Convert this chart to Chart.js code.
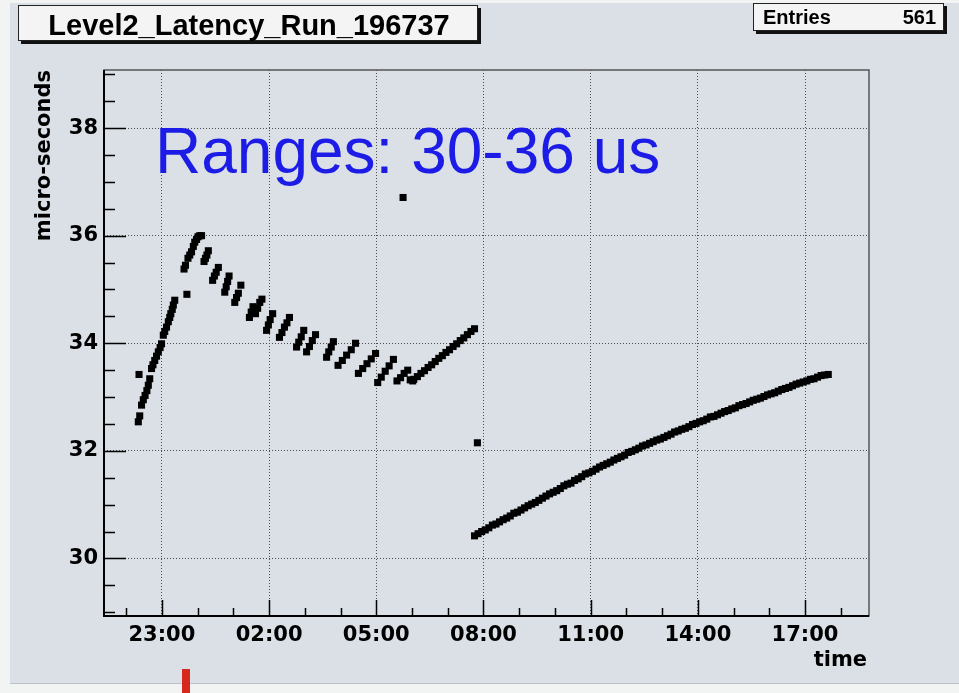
<!DOCTYPE html>
<html>
<head>
<meta charset="utf-8">
<title>Level2_Latency_Run_196737</title>
<script src="https://cdn.jsdelivr.net/npm/chart.js@4.4.1/dist/chart.umd.min.js"></script>
<style>
  html, body { margin: 0; padding: 0; background: #f2f3f3; }
  #wrap { position: relative; width: 959px; height: 693px; }
</style>
</head>
<body>
<div id="wrap"><canvas id="latency"></canvas></div>
<script>
// --- DATA (time in hours of the run: 23 = 23:00, 26 = 02:00 next day) ---
const nightTimes = [
  22.34, 22.36, 22.38, 22.43, 22.48, 22.53, 22.58, 22.62, 22.66, 22.71, 22.75, 22.80, 22.85,
  22.90, 22.95, 22.99, 23.04, 23.08, 23.13, 23.18, 23.22, 23.25, 23.29, 23.32, 23.36,
  23.62, 23.66, 23.70, 23.73, 23.78, 23.83, 23.88, 23.92, 23.97, 24.01, 24.06, 24.11,
  24.18, 24.22, 24.26, 24.30,
  24.42, 24.47, 24.52, 24.58,
  24.76, 24.80, 24.84, 24.88,
  25.04, 25.09, 25.14, 25.21,
  25.45, 25.50, 25.55,
  25.62, 25.68, 25.74, 25.80,
  25.93, 25.98, 26.03, 26.10,
  26.29, 26.36, 26.43, 26.50, 26.57,
  26.77, 26.83, 26.90, 26.97,
  27.05, 27.13, 27.21, 27.30,
  27.61, 27.67, 27.74, 27.80,
  27.93, 28.05, 28.17, 28.30, 28.42,
  28.50, 28.62, 28.74, 28.86, 28.98,
  29.04, 29.14, 29.25, 29.36, 29.48,
  29.58, 29.68, 29.78, 29.88,
  29.95, 30.02,
  30.05, 30.15, 30.25, 30.35, 30.45, 30.55, 30.65, 30.75, 30.85, 30.95,
  31.05, 31.15, 31.25, 31.35, 31.45, 31.55, 31.65, 31.75
];
const nightLatency = [
  32.54, 33.42, 32.65, 32.85, 32.95, 33.03, 33.12, 33.22, 33.34, 33.53, 33.60, 33.68, 33.76,
  33.84, 33.92, 33.99, 34.15, 34.22, 34.30, 34.40, 34.48, 34.55, 34.63, 34.71, 34.80,
  35.38, 35.45, 34.91, 35.58, 35.64, 35.70, 35.80, 35.88, 35.93, 35.98, 36.00, 36.00,
  35.52, 35.58, 35.64, 35.72,
  35.17, 35.25, 35.32, 35.41,
  34.95, 35.05, 35.15, 35.25,
  34.76, 34.85, 34.93, 35.08,
  34.48, 34.58, 34.68,
  34.55, 34.65, 34.76, 34.82,
  34.24, 34.34, 34.44, 34.55,
  34.11, 34.20, 34.30, 34.38, 34.48,
  33.93, 34.02, 34.12, 34.24,
  33.84, 33.94, 34.05, 34.16,
  33.74, 33.84, 33.93, 34.03,
  33.59, 33.68, 33.78, 33.88, 34.00,
  33.44, 33.53, 33.62, 33.71, 33.81,
  33.27, 33.37, 33.48, 33.58, 33.70,
  33.30, 33.36, 33.44, 33.50,
  33.32, 33.30,
  33.33, 33.38, 33.44, 33.49, 33.55, 33.60, 33.66, 33.72, 33.77, 33.83,
  33.88, 33.94, 33.99, 34.05, 34.10, 34.16, 34.22, 34.27
];
const dayTimes = [
  31.75, 31.85, 31.95, 32.05, 32.15, 32.25, 32.35, 32.45, 32.55, 32.65,
  32.75, 32.85, 32.95, 33.05, 33.15, 33.25, 33.35, 33.45, 33.55, 33.65,
  33.75, 33.85, 33.95, 34.05, 34.15, 34.25, 34.35, 34.45, 34.55, 34.65,
  34.75, 34.85, 34.95, 35.05, 35.15, 35.25, 35.35, 35.45, 35.55, 35.65,
  35.75, 35.85, 35.95, 36.05, 36.15, 36.25, 36.35, 36.45, 36.55, 36.65,
  36.75, 36.85, 36.95, 37.05, 37.15, 37.25, 37.35, 37.45, 37.55, 37.65,
  37.75, 37.85, 37.95, 38.05, 38.15, 38.25, 38.35, 38.45, 38.55, 38.65,
  38.75, 38.85, 38.95, 39.05, 39.15, 39.25, 39.35, 39.45, 39.55, 39.65,
  39.75, 39.85, 39.95, 40.05, 40.15, 40.25, 40.35, 40.45, 40.55, 40.65,
  40.75, 40.85, 40.95, 41.05, 41.15, 41.25, 41.35, 41.45, 41.55, 41.65
];
const dayLatency = [
  30.42, 30.46, 30.50, 30.53, 30.57, 30.62, 30.64, 30.68, 30.72, 30.75,
  30.79, 30.84, 30.86, 30.90, 30.94, 30.98, 31.01, 31.04, 31.08, 31.12,
  31.16, 31.20, 31.23, 31.26, 31.30, 31.35, 31.38, 31.40, 31.45, 31.48,
  31.52, 31.57, 31.59, 31.62, 31.66, 31.70, 31.73, 31.76, 31.79, 31.83,
  31.86, 31.89, 31.92, 31.97, 31.99, 32.02, 32.05, 32.09, 32.11, 32.14,
  32.17, 32.20, 32.22, 32.25, 32.28, 32.31, 32.35, 32.37, 32.40, 32.42,
  32.45, 32.49, 32.51, 32.54, 32.56, 32.59, 32.63, 32.64, 32.67, 32.70,
  32.73, 32.75, 32.78, 32.80, 32.84, 32.86, 32.88, 32.91, 32.94, 32.96,
  32.98, 33.01, 33.04, 33.06, 33.08, 33.11, 33.14, 33.16, 33.18, 33.21,
  33.24, 33.26, 33.28, 33.30, 33.33, 33.34, 33.37, 33.40, 33.41, 33.42
];
const strayTimes = [29.75, 31.83];
const strayLatency = [36.71, 32.15];

const xTicks = [22, 23, 24, 25, 26, 27, 28, 29, 30, 31, 32, 33, 34, 35, 36, 37, 38, 39, 40, 41, 42];
const xLabelHours = [23, 26, 29, 32, 35, 38, 41];
const yTicks = [29, 29.5, 30, 30.5, 31, 31.5, 32, 32.5, 33, 33.5, 34, 34.5, 35, 35.5,
  36, 36.5, 37, 37.5, 38, 38.5, 39];
const yLabelValues = [30, 32, 34, 36, 38];

const entries = 561;

// --- HELPERS ---
const toPoints = (xs, ys) => xs.map((x, i) => ({ x: x, y: ys[i] }));
const clock = h => String(h % 24).padStart(2, '0') + ':00';
const LABEL_FONT = { family: '"DejaVu Sans", sans-serif', size: 21, weight: 'bold' };

function markerSet(data) {
  return {
    data: data,
    backgroundColor: '#000',
    borderColor: '#000',
    pointStyle: 'rect',
    pointRadius: 5,
    pointHoverRadius: 5,
    pointBorderWidth: 0
  };
}

function drawBox(ctx, x0, y0, x1, y1) {
  // ROOT style pave: light fill, thin border, dark drop shadow
  ctx.fillStyle = '#111';
  ctx.fillRect(x0 + 3, y1, x1 - x0, 3);
  ctx.fillRect(x1, y0 + 3, 3, y1 - y0);
  ctx.fillStyle = '#f4f4f4';
  ctx.fillRect(x0, y0, x1 - x0, y1 - y0);
  ctx.strokeStyle = '#222';
  ctx.lineWidth = 1;
  ctx.strokeRect(x0 + 0.5, y0 + 0.5, x1 - x0 - 1, y1 - y0 - 1);
}

// --- ROOT CANVAS DECORATION ---
const rootFrame = {
  id: 'rootFrame',
  beforeDraw(chart) {
    const { ctx, width, height } = chart;
    ctx.save();
    ctx.fillStyle = '#f2f3f3';
    ctx.fillRect(0, 0, width, height);
    ctx.fillStyle = '#dae0e6';
    ctx.fillRect(10, 3, width - 10, 680);
    ctx.fillStyle = '#b9c3cc';
    ctx.fillRect(10, 683, width - 10, 1);
    ctx.restore();
  },
  afterDatasetsDraw(chart) {
    const { ctx, chartArea: a, scales } = chart;
    ctx.save();
    // inside tick marks
    ctx.strokeStyle = '#000';
    ctx.lineWidth = 1.5;
    ctx.beginPath();
    xTicks.forEach(v => {
      const px = Math.round(scales.x.getPixelForValue(v)) + 0.5;
      const len = xLabelHours.includes(v) ? 16 : 8;
      ctx.moveTo(px, a.bottom);
      ctx.lineTo(px, a.bottom - len);
    });
    yTicks.forEach(v => {
      const py = Math.round(scales.y.getPixelForValue(v)) + 0.5;
      const len = yLabelValues.includes(v) ? 22 : 11;
      ctx.moveTo(a.left, py);
      ctx.lineTo(a.left + len, py);
    });
    ctx.stroke();
    // frame
    ctx.strokeStyle = '#555';
    ctx.lineWidth = 1.5;
    ctx.strokeRect(a.left, a.top, a.right - a.left, a.bottom - a.top);
    ctx.strokeStyle = '#000';
    ctx.lineWidth = 2;
    ctx.beginPath();
    ctx.moveTo(a.left, a.top);
    ctx.lineTo(a.left, a.bottom);
    ctx.lineTo(a.right, a.bottom);
    ctx.stroke();
    ctx.restore();
  },
  afterDraw(chart) {
    const { ctx, chartArea: a } = chart;
    ctx.save();
    // histogram title
    drawBox(ctx, 18, 5, 478, 41);
    ctx.fillStyle = '#000';
    ctx.font = 'bold 29px "Liberation Sans", Arial, sans-serif';
    ctx.textAlign = 'center';
    ctx.textBaseline = 'alphabetic';
    ctx.fillText('Level2_Latency_Run_196737', 249, 35);
    // statistics box
    drawBox(ctx, 753, 3, 944, 31);
    ctx.font = 'bold 20px "Liberation Sans", Arial, sans-serif';
    ctx.fillStyle = '#000';
    ctx.textAlign = 'left';
    ctx.fillText('Entries', 763, 24);
    ctx.textAlign = 'right';
    ctx.fillText(String(entries), 936, 24);
    // axis titles
    ctx.font = 'bold 21px "DejaVu Sans", sans-serif';
    ctx.textAlign = 'right';
    ctx.fillText('time', a.right - 2, 666);
    ctx.translate(50, a.top);
    ctx.rotate(-Math.PI / 2);
    ctx.fillText('micro-seconds', 0, 0);
    ctx.setTransform(1, 0, 0, 1, 0, 0);
    // annotation
    ctx.fillStyle = '#1c1ce6';
    ctx.font = '64px "Liberation Sans", Arial, sans-serif';
    ctx.textAlign = 'left';
    ctx.fillText('Ranges: 30-36 us', 155, 173);
    // red marker below the canvas
    ctx.fillStyle = '#d6281d';
    ctx.fillRect(182, 669, 8, 24);
    ctx.restore();
  }
};

// --- CHART ---
window.onload = () => {
  const ctx = document.getElementById('latency').getContext('2d');
  new Chart(ctx, {
    type: 'scatter',
    data: {
      datasets: [
        markerSet(toPoints(nightTimes, nightLatency)),
        markerSet(toPoints(dayTimes, dayLatency)),
        markerSet(toPoints(strayTimes, strayLatency))
      ]
    },
    options: {
      responsive: true,
      maintainAspectRatio: false,
      animation: false,
      layout: { padding: { top: 70, right: 90, bottom: 0, left: 0 } },
      plugins: { legend: { display: false }, tooltip: { enabled: false } },
      scales: {
        x: {
          type: 'linear',
          min: 21.38,
          max: 42.79,
          afterBuildTicks: s => { s.ticks = xTicks.map(v => ({ value: v })); },
          afterFit: s => { s.height = 77; },
          ticks: {
            autoSkip: false,
            maxRotation: 0,
            padding: 7,
            color: '#000',
            font: LABEL_FONT,
            callback: v => xLabelHours.includes(v) ? clock(v) : ''
          },
          grid: {
            drawTicks: false,
            lineWidth: 1,
            color: c => (c.tick && xLabelHours.includes(c.tick.value)) ? '#4d4d4d' : 'rgba(0,0,0,0)'
          },
          border: { display: false, dash: [1, 2] }
        },
        y: {
          type: 'linear',
          min: 28.93,
          max: 39.08,
          afterBuildTicks: s => { s.ticks = yTicks.map(v => ({ value: v })); },
          afterFit: s => { s.width = 104; },
          ticks: {
            autoSkip: false,
            padding: 6,
            color: '#000',
            font: LABEL_FONT,
            callback: v => yLabelValues.includes(v) ? String(v) : ''
          },
          grid: {
            drawTicks: false,
            lineWidth: 1,
            color: c => (c.tick && yLabelValues.includes(c.tick.value)) ? '#4d4d4d' : 'rgba(0,0,0,0)'
          },
          border: { display: false, dash: [1, 2] }
        }
      }
    },
    plugins: [rootFrame]
  });
};
</script>
</body>
</html>
